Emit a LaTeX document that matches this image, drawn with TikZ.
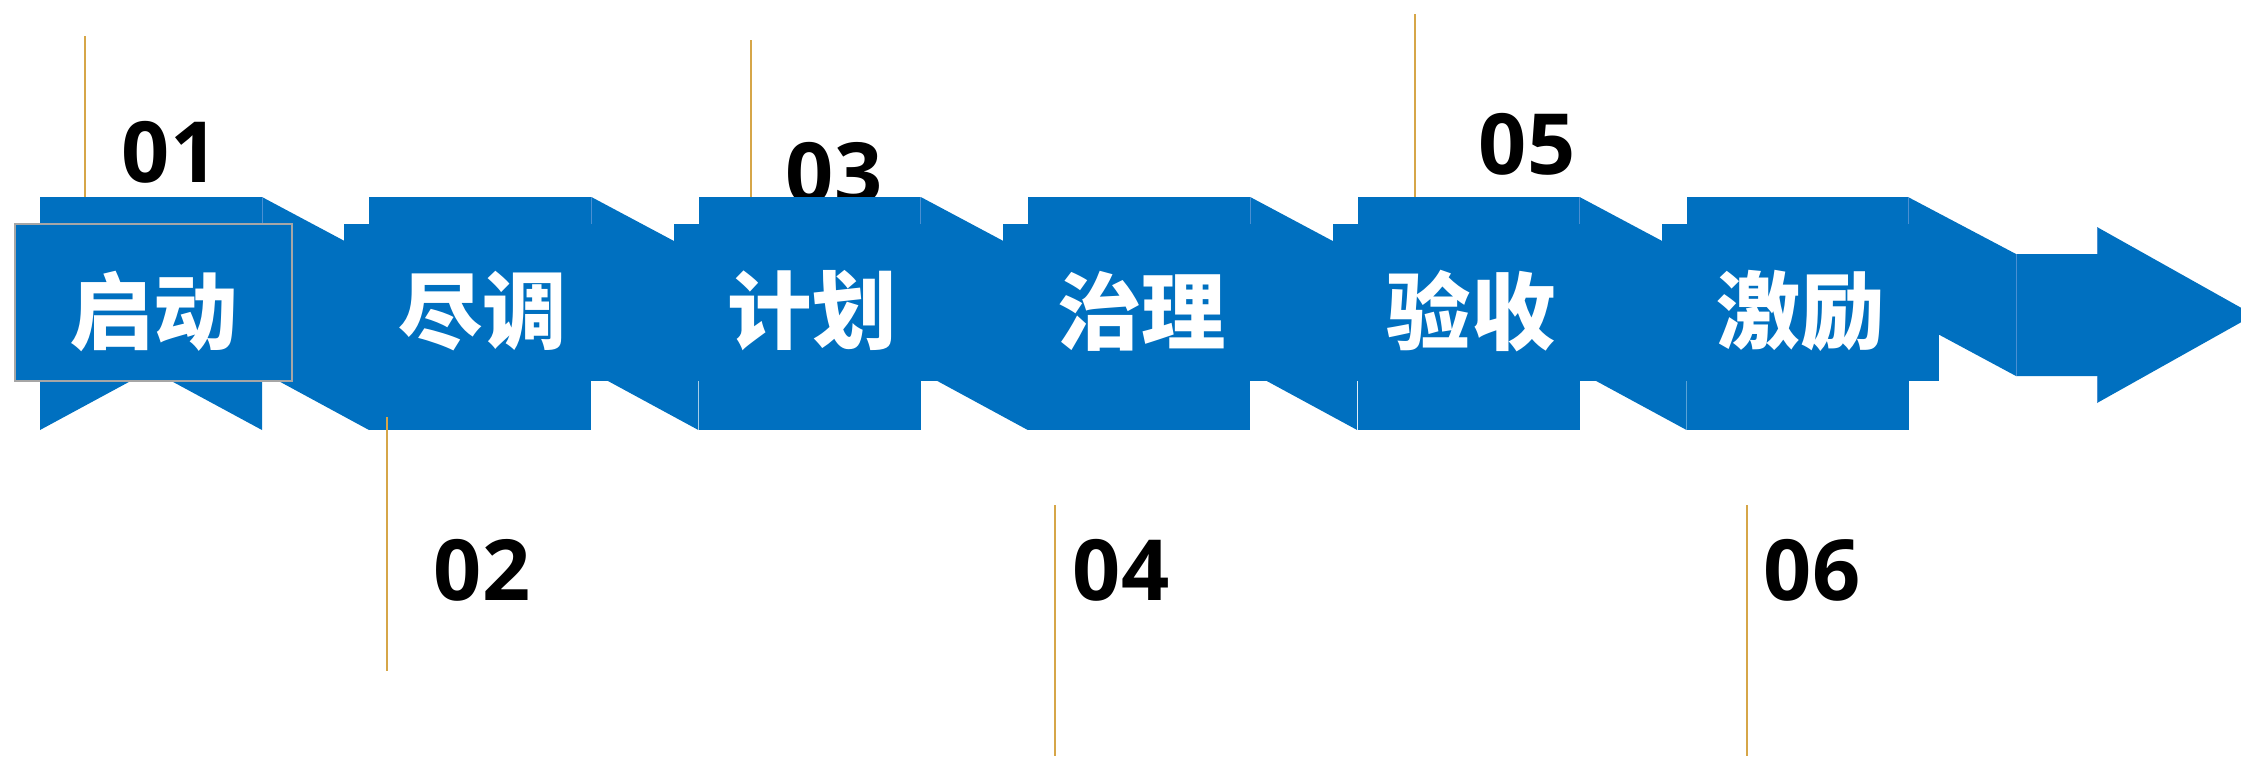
\documentclass[tikz,border=0pt]{standalone}
\usepackage{fontspec}
\newfontfamily\cjk{Noto Sans CJK SC}
\newfontfamily\numfont{Open Sans}
\usepackage{tikz}

\definecolor{stepblue}{HTML}{0070C0}
\definecolor{seamblue}{HTML}{4A8FD2}
\definecolor{leadgold}{RGB}{214,166,72}
\definecolor{frameg}{HTML}{A6A6A6}

\tikzset{
  lead/.style={draw=leadgold,line width=0.022cm},
  num/.style={font=\numfont\bfseries\fontsize{24}{24}\selectfont,text=black,inner sep=0pt},
  steptext/.style={font=\cjk\bfseries\fontsize{24}{24}\selectfont,text=white,inner sep=0pt},
  seam/.style={draw=seamblue,line width=0.008cm}
}

\begin{document}
\begin{tikzpicture}[x=0.01cm,y=-0.01cm]
\useasboundingbox (0,0) rectangle (2241,756);
\clip (0,0) rectangle (2241,756);

% number hidden behind the band
\node[num] (n03) at (834,173) {03};

% band: first piece with the notch, then the others
\fill[stepblue] (40,197) -- (262,197) -- (262,430) -- (151,370) -- (40,430) -- cycle;
\foreach \i in {1,...,5}{
    \pgfmathsetmacro\xl{40+329.4*\i}
    \fill[stepblue] (\xl,197) rectangle ++(222,233);
}
\foreach \i in {0,...,4}{
    \pgfmathsetmacro\xl{262+329.4*\i}
    \fill[stepblue] (\xl,197) -- ++(107,57) -- ++(0,176) -- ++(-107,-58) -- cycle;
    \draw[seam] (\xl,197) -- (\xl,224);
}
\fill[stepblue] (1908,197) -- (2016,254) -- (2016,376) -- (1908,318) -- cycle;
\draw[seam] (1908,197) -- (1908,224);
\fill[stepblue] (2016,254) -- (2097,254) -- (2097,227) -- (2254,315) -- (2097,403)
    -- (2097,376) -- (2016,376) -- cycle;
\draw[seam] (2016,254) -- (2016,376);
\draw[seam] (2097,227) -- (2097,254) (2097,376) -- (2097,403);

% front boxes
\foreach \i in {1,...,5}{
    \pgfmathsetmacro\xl{15+329.4*\i}
    \fill[stepblue] (\xl,224) rectangle ++(277,157);
}
\filldraw[fill=stepblue,draw=frameg,line width=0.015cm] (15,224) rectangle (292,381);

% step names
\node[steptext] (s1) at (153.5,311) {启动};
\node[steptext] (s2) at (482.9,311) {尽调};
\node[steptext] (s3) at (812.3,311) {计划};
\node[steptext] (s4) at (1141.7,311) {治理};
\node[steptext] (s5) at (1471.1,311) {验收};
\node[steptext] (s6) at (1800.5,311) {激励};

% leader lines
\draw[lead] (85,36) -- (85,197);
\draw[lead] (387,417) -- (387,671);
\draw[lead] (751,40) -- (751,197);
\draw[lead] (1055,505) -- (1055,756);
\draw[lead] (1415,14) -- (1415,197);
\draw[lead] (1747,505) -- (1747,756);

% numbers
\node[num] (n01) at (170,152) {01};
\node[num] (n02) at (482,570) {02};
\node[num] (n04) at (1121,570) {04};
\node[num] (n05) at (1527,144) {05};
\node[num] (n06) at (1812,570) {06};
\end{tikzpicture}
\end{document}
